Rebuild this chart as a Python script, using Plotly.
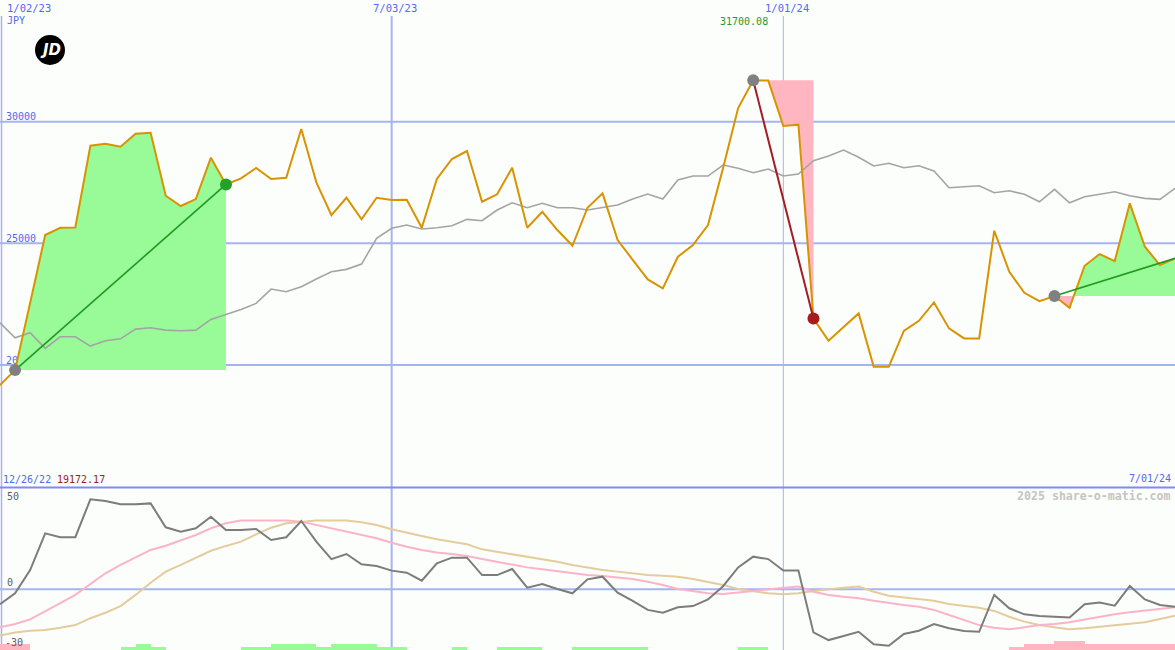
import plotly.graph_objects as go
import pandas as pd

# ---------------- data ----------------
dates = pd.date_range("2023-01-02", periods=79, freq="7D")

price = [19172, 19790, 22545, 25341, 25641, 25650, 29013, 29095, 28972, 29507,
         29548, 26957, 26534, 26821, 28520, 27420, 27673, 28096, 27644, 27697,
         29700, 27508, 26163, 26875, 25987, 26875, 26780, 26793, 25641, 27644,
         28466, 28795, 26710, 27015, 28108, 25641, 26299, 25547, 24901, 26464,
         27056, 25135, 24325, 23519, 23149, 24449, 24930, 25752, 28096, 30563,
         31700.08, 31690, 29823, 29877, 21907, 20995, 21558, 22121, 19926, 19926,
         21406, 21817, 22574, 21505, 21093, 21093, 25518, 23832, 22968, 22627,
         22833, 22352, 24079, 24560, 24272, 26645, 24860, 24107, 24383]

price_ma = [21735, 21118, 21324, 20682, 21159, 21159, 20777, 20995, 21077, 21476,
            21529, 21435, 21406, 21435, 21875, 22080, 22286, 22533, 23121, 23010,
            23215, 23532, 23832, 23931, 24149, 25205, 25617, 25752, 25588, 25641,
            25724, 25987, 25929, 26369, 26669, 26464, 26645, 26464, 26464, 26369,
            26464, 26575, 26821, 27027, 26821, 27603, 27767, 27767, 28220, 28084,
            27903, 28055, 27767, 27849, 28396, 28590, 28836, 28536, 28178, 28289,
            28108, 28191, 27973, 27286, 27327, 27368, 27080, 27163, 27015, 26710,
            27220, 26669, 26916, 27027, 27122, 26957, 26850, 26809, 27261]

osc = [-7.4, -2.0, 9.5, 27.6, 25.7, 25.7, 44.4, 43.6, 42.0, 42.0,
       42.4, 30.6, 28.4, 30.1, 35.8, 29.3, 29.3, 29.8, 24.3, 25.7,
       33.7, 23.5, 14.9, 17.4, 12.3, 11.5, 9.2, 8.2, 4.2, 12.8,
       15.6, 15.6, 7.0, 7.0, 10.0, 0.8, 2.6, 0.1, -2.0, 4.9,
       6.2, -1.7, -5.7, -10.2, -11.6, -8.9, -8.3, -5.0, 1.5, 10.8,
       16.1, 14.9, 9.2, 9.2, -21.3, -25.1, -23.1, -21.0, -27.2, -27.9,
       -22.1, -20.5, -17.2, -19.3, -20.6, -21.0, -2.8, -9.4, -12.4, -13.2,
       -13.6, -14.0, -7.4, -6.6, -8.1, 1.6, -5.0, -7.8, -8.6]

osc_fast = [-18.8, -17.2, -14.9, -10.7, -6.9, -2.8, 2.4, 7.9, 12.0, 15.8,
            19.4, 21.5, 24.0, 26.8, 30.1, 32.6, 33.9, 33.9, 33.9, 33.9,
            33.4, 31.7, 30.1, 28.4, 26.8, 25.2, 23.0, 21.0, 19.4, 18.2,
            17.4, 16.4, 14.9, 13.6, 12.3, 10.8, 9.9, 9.0, 8.2, 7.0,
            6.5, 5.9, 5.1, 3.7, 2.1, 0.1, -0.9, -2.0, -2.3, -1.7,
            -0.9, 0.0, 0.8, 1.3, -1.2, -2.8, -3.7, -4.5, -5.7, -6.9,
            -7.8, -8.6, -10.2, -12.7, -15.2, -17.7, -19.0, -19.8, -18.8, -17.7,
            -17.2, -16.3, -14.9, -13.6, -12.4, -11.4, -10.6, -9.8, -8.9]

osc_slow = [-22.9, -21.4, -20.5, -20.1, -19.0, -17.7, -14.3, -11.6, -8.3, -2.8,
            3.2, 8.7, 12.0, 15.3, 19.0, 21.4, 23.5, 27.1, 30.4, 32.6,
            33.4, 33.9, 33.9, 33.9, 33.1, 31.7, 29.6, 27.8, 26.3, 24.7,
            23.5, 22.2, 19.7, 18.5, 17.4, 16.1, 14.8, 13.6, 12.0, 10.8,
            9.5, 8.7, 7.9, 7.0, 6.7, 6.2, 5.1, 3.7, 2.1, 0.1,
            -0.9, -2.0, -2.5, -2.0, -0.9, 0.1, 0.8, 1.3, -1.2, -3.2,
            -4.0, -4.8, -5.7, -7.3, -8.3, -9.1, -10.7, -13.6, -16.0, -17.7,
            -18.8, -19.8, -19.3, -18.5, -17.7, -17.2, -16.3, -14.7, -13.1]

# signal strip, one level per weekly interval (+ green, - pink)
strip = [-2, -2, 0, 0, 0, 0, 0, 0, 1, 2,
         1, 0, 0, 0, 0, 0, 1, 1, 2, 2,
         2, 1, 2, 2, 2, 1, 1, 0, 0, 0,
         1, 0, 0, 1, 1, 1, 0, 0, 1, 1,
         1, 1, 1, 0, 0, 0, 0, 0, 0, 1,
         1, 0, 0, 0, 0, 0, 0, 0, 0, 0,
         0, 0, 0, 0, 0, 0, 0, -1, -2, -2,
         -3, -3, -2, -2, -2, -2, -2, -2]

# trend segments: (start index, end index, closed?)
segments = [(1, 15, True), (50, 54, True), (70, 78, False)]

date_ticks = ["2023-07-03", "2024-01-01"]
date_tick_labels = ["7/03/23", "1/01/24"]
price_levels = [20000, 25000, 30000]
price_level_labels = ["20000", "25000", "30000"]
osc_labels = ["50", "0", "-30"]

# ---------------- geometry helpers ----------------
W, H = 1175, 650
BG = "#fcfefc"
GRID = "#a6b3f3"
SEP = "#7e8cf2"
BLUE = "#5468f0"
FONT = "DejaVu Sans Mono"
t0, t1 = dates[0], dates[-1]


def px(x):
    return x / W


def py(y):
    return 1 - y / H


def xdate(x):
    return t0 + (t1 - t0) * (x / W)


TOP_RANGE = [14986, 35002]
BOT_RANGE = [-30, 50]
PX_PER_UNIT_BOT = (650 - 488) / (BOT_RANGE[1] - BOT_RANGE[0])
PX_PER_UNIT_TOP = (487) / (TOP_RANGE[1] - TOP_RANGE[0])

fig = go.Figure()

# price level labels (drawn under the fills)
fig.add_trace(go.Scatter(
    x=[xdate(6)] * len(price_levels),
    y=[v + 4 / PX_PER_UNIT_TOP for v in price_levels],
    text=price_level_labels, mode="text", textposition="middle right",
    textfont=dict(family=FONT, size=10, color=BLUE), hoverinfo="skip"))

# trend fills
UP_FILL, DN_FILL = "#98fb98", "#ffb6c1"
for i0, i1, closed in segments:
    base = price[i0]
    pts = []
    for i in range(i0, i1 + 1):
        if i > i0:
            a, b = price[i - 1] - base, price[i] - base
            if a * b < 0:
                f = a / (a - b)
                pts.append((dates[i - 1] + (dates[i] - dates[i - 1]) * f, base))
        pts.append((dates[i], price[i]))
    xs = [p[0] for p in pts]
    for clip, col in ((max, UP_FILL), (min, DN_FILL)):
        ys = [clip(p[1], base) for p in pts]
        if all(abs(y - base) < 1e-9 for y in ys):
            continue
        fig.add_trace(go.Scatter(
            x=xs + [xs[-1], xs[0]], y=ys + [base, base], fill="toself",
            fillcolor=col, line=dict(width=0), mode="lines", hoverinfo="skip"))

# moving average and price
fig.add_trace(go.Scatter(x=dates, y=price_ma, mode="lines",
                         line=dict(color="#a4a4a4", width=1.6), hoverinfo="skip"))
fig.add_trace(go.Scatter(x=dates, y=price, mode="lines",
                         line=dict(color="#d99300", width=2), hoverinfo="skip"))

# trend lines and markers
for i0, i1, closed in segments:
    up = price[i1] >= price[i0]
    lc = "#1f9a1f" if up else "#a51c24"
    fig.add_trace(go.Scatter(x=[dates[i0], dates[i1]], y=[price[i0], price[i1]],
                             mode="lines", line=dict(color=lc, width=1.6 if up else 2),
                             hoverinfo="skip"))
for i0, i1, closed in segments:
    up = price[i1] >= price[i0]
    mx, my, mc = [dates[i0]], [price[i0]], ["#808080"]
    if closed:
        mx.append(dates[i1]); my.append(price[i1])
        mc.append("#27a027" if up else "#a81c1c")
    fig.add_trace(go.Scatter(x=mx, y=my, mode="markers",
                             marker=dict(size=12, color=mc, line=dict(width=0)),
                             hoverinfo="skip"))

# bottom panel: signal strip
bx, by, bc = [], [], []
for j, lv in enumerate(strip):
    if lv == 0:
        continue
    bx.append(dates[j] + (dates[j + 1] - dates[j]) / 2)
    by.append(abs(lv) * 3 / PX_PER_UNIT_BOT)
    bc.append(UP_FILL if lv > 0 else DN_FILL)
fig.add_trace(go.Bar(x=bx, y=by, base=BOT_RANGE[0], width=7 * 86400000,
                     marker=dict(color=bc, line=dict(width=0)), yaxis="y2",
                     hoverinfo="skip"))

fig.add_trace(go.Scatter(x=dates, y=osc_slow, mode="lines", yaxis="y2",
                         line=dict(color="#e4cc9c", width=2), hoverinfo="skip"))
fig.add_trace(go.Scatter(x=dates, y=osc_fast, mode="lines", yaxis="y2",
                         line=dict(color="#fbb3c9", width=2), hoverinfo="skip"))
fig.add_trace(go.Scatter(x=dates, y=osc, mode="lines", yaxis="y2",
                         line=dict(color="#7c7c7c", width=2), hoverinfo="skip"))

# ---------------- shapes ----------------
shapes = []
for v in price_levels:
    shapes.append(dict(type="line", xref="paper", x0=0, x1=1, yref="y", y0=v, y1=v,
                       line=dict(color=GRID, width=2), layer="below"))
shapes.append(dict(type="line", xref="paper", x0=0, x1=1, yref="y2", y0=0, y1=0,
                   line=dict(color=GRID, width=2), layer="below"))
for d, w in zip(date_ticks, [2, 1]):
    shapes.append(dict(type="line", xref="x", x0=d, x1=d, yref="paper", y0=0, y1=py(16),
                       line=dict(color=GRID, width=w), layer="below"))
shapes.append(dict(type="line", xref="paper", x0=px(1.5), x1=px(1.5), yref="paper",
                   y0=0, y1=py(16), line=dict(color=GRID, width=1.5), layer="below"))
shapes.append(dict(type="line", xref="paper", x0=0, x1=1, yref="paper",
                   y0=py(487.5), y1=py(487.5), line=dict(color=SEP, width=2)))
# logo
shapes.append(dict(type="circle", xref="paper", yref="paper", x0=px(35), x1=px(65),
                   y0=py(65), y1=py(35), fillcolor="black", line=dict(width=0)))

# ---------------- annotations ----------------
ann = []


def label(text, x, y, color=BLUE, anchor="left", size=10, family=FONT):
    ann.append(dict(text=text, x=px(x), y=py(y), xref="paper", yref="paper",
                    xanchor=anchor, yanchor="middle", showarrow=False,
                    font=dict(family=family, size=size, color=color)))


label("1/02/23", 5, 8, size=10.5)
label("JPY", 5, 21)
label(date_tick_labels[0], 395, 8, anchor="center", size=10.5)
label(date_tick_labels[1], 787, 8, anchor="center", size=10.5)
label("31700.08", 744.5, 21.5, color="#2c962c", anchor="center")
label("12/26/22", 1, 479)
label("19172.17", 55, 479, color="#a01c1c")
label("7/01/24", 1173, 478, anchor="right")
label("<b>2025 share-o-matic.com</b>", 1173, 496, color="#c4c4c4", anchor="right",
      size=11.6)
label(osc_labels[0], 5, 496, color="#606060")
label(osc_labels[1], 5, 582, color="#606060")
label(osc_labels[2], 3, 642, color="#606060")
label("<b><i>JD</i></b>", 50, 50, color="white", anchor="center", size=15,
      family="DejaVu Sans")

fig.update_layout(
    width=W, height=H, margin=dict(l=0, r=0, t=0, b=0),
    paper_bgcolor=BG, plot_bgcolor=BG, showlegend=False,
    xaxis=dict(type="date", range=[t0, t1], showgrid=False, zeroline=False,
               showticklabels=False, showline=False),
    yaxis=dict(domain=[py(487), 1], range=TOP_RANGE, showgrid=False, zeroline=False,
               showticklabels=False),
    yaxis2=dict(domain=[0, py(488)], range=BOT_RANGE, showgrid=False, zeroline=False,
                showticklabels=False, anchor="x"),
    shapes=shapes, annotations=ann, bargap=0,
)

fig.write_html("out.html", config={"displayModeBar": False},
               post_script="document.body.style.margin='0px';"
                           "document.body.style.overflow='hidden';")
